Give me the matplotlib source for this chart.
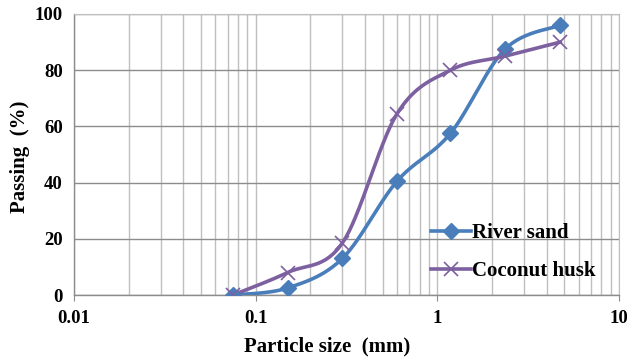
import numpy as np
import matplotlib
matplotlib.use("Agg")
import matplotlib.pyplot as plt
from matplotlib.ticker import LogLocator, FixedLocator, NullFormatter
from matplotlib.lines import Line2D

sizes = [0.075, 0.15, 0.3, 0.6, 1.18, 2.36, 4.75]
river_sand = [0, 2.5, 13, 40.5, 57.5, 87.5, 96]
coconut_husk = [0, 8, 18.5, 64.5, 80, 85, 90]
xticks = [0.01, 0.1, 1, 10]
xticklabels = ["0.01", "0.1", "1", "10"]
yticks = [0, 20, 40, 60, 80, 100]

plt.rcParams['font.family'] = ['Liberation Serif', 'DejaVu Serif']
plt.rcParams['font.weight'] = 'bold'

def smooth(xs, ys, n=40):
    lx = np.log10(xs)
    ys = np.asarray(ys, float)
    P = np.column_stack([lx, ys])
    out = []
    m = len(P)
    for i in range(m - 1):
        p0 = P[i - 1] if i > 0 else P[i]
        p1 = P[i]
        p2 = P[i + 1]
        p3 = P[i + 2] if i + 2 < m else P[i + 1]
        c1 = p1 + (p2 - p0) / 6
        c2 = p2 - (p3 - p1) / 6
        t = np.linspace(0, 1, n)[:, None]
        seg = ((1 - t) ** 3) * p1 + 3 * ((1 - t) ** 2) * t * c1 + 3 * (1 - t) * t ** 2 * c2 + t ** 3 * p2
        out.append(seg if i == 0 else seg[1:])
    s = np.vstack(out)
    return 10 ** s[:, 0], s[:, 1]

fig = plt.figure(figsize=(6.27, 3.6), dpi=100)
ax = fig.add_axes([74 / 627, 65 / 360, 545 / 627, 281 / 360])

blue = '#4A7EBB'
purple = '#7D60A0'

ax.set_xscale('log')
ax.set_xlim(0.01, 10)
ax.set_ylim(0, 100)

ax.xaxis.set_major_locator(FixedLocator(xticks))
ax.set_xticklabels(xticklabels)
ax.xaxis.set_minor_locator(LogLocator(base=10, subs=np.arange(2, 10)))
ax.xaxis.set_minor_formatter(NullFormatter())
ax.set_yticks(yticks)

ax.grid(True, which='both', axis='x', color='#BFBFBF', lw=1.0)
ax.grid(True, which='major', axis='y', color='#8C8C8C', lw=1.0)
ax.set_axisbelow(True)

for sp in ['top', 'right']:
    ax.spines[sp].set_color('#BFBFBF')
for sp in ['left', 'bottom']:
    ax.spines[sp].set_color('#8C8C8C')
    ax.spines[sp].set_linewidth(1.0)

ax.tick_params(axis='x', which='major', length=4, color='#8C8C8C', labelsize=13.5, pad=7)
ax.tick_params(axis='x', which='minor', length=0)
ax.tick_params(axis='y', length=0, labelsize=13.5, pad=8)
for lab in ax.get_xticklabels() + ax.get_yticklabels():
    lab.set_fontweight('bold')

sx, sy = smooth(sizes, river_sand)
ax.plot(sx, sy, color=blue, lw=2.6, zorder=3)
ax.plot(sizes, river_sand, ls='none', marker='D', ms=8, color=blue, zorder=4)
cx, cy = smooth(sizes, coconut_husk)
ax.plot(cx, cy, color=purple, lw=2.6, zorder=3)
ax.plot(sizes, coconut_husk, ls='none', marker='x', ms=10, mew=1.2, color=purple, zorder=4)

h1 = Line2D([], [], color=blue, lw=2.6, marker='D', ms=8)
h2 = Line2D([], [], color=purple, lw=2.6, marker='x', ms=10, mew=1.2)
leg = ax.legend([h1, h2], ['River sand', 'Coconut husk'], loc='lower left',
                bbox_to_anchor=(0.655, 0.05), frameon=False,
                prop={'size': 15, 'weight': 'bold'}, handlelength=1.9,
                handletextpad=0.05, labelspacing=0.84, borderaxespad=0, borderpad=0)

ax.set_xlabel('Particle size  (mm)', fontsize=15, fontweight='bold')
ax.xaxis.set_label_coords((327 - 74) / 545, -0.148)
ax.set_ylabel('Passing  (%)', fontsize=15, fontweight='bold')
ax.yaxis.set_label_coords(-0.081, 0.49)

fig.savefig('out.png', dpi=100)
